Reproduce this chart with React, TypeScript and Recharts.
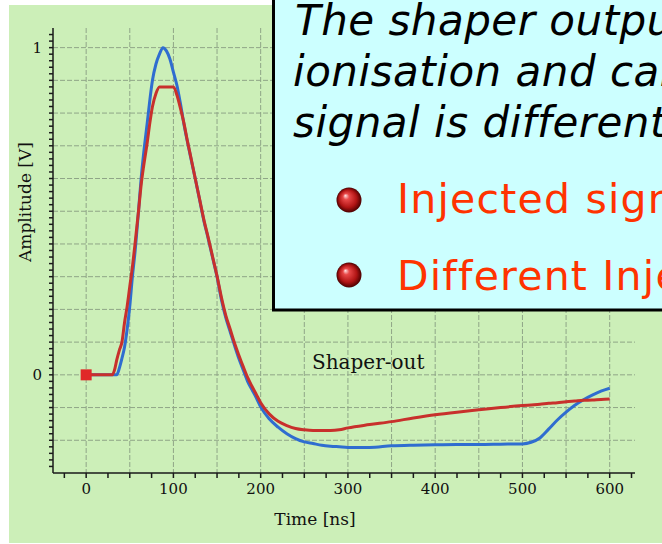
import React from 'react';
import { LineChart, Line, XAxis, YAxis, CartesianGrid, ReferenceDot } from 'recharts';

// time axis in ns, shared by both traces
const timeNs = [
  0, 10, 20, 30, 33, 35, 38, 41, 44, 47, 50, 53, 56, 60, 63, 66, 70, 73, 76, 80, 84, 88,
  92, 96, 100, 104, 108, 112, 116, 120, 125, 130, 135, 140, 145, 150, 155, 160, 165, 170,
  175, 180, 185, 190, 195, 200, 210, 220, 230, 240, 250, 260, 270, 280, 290, 300, 325, 350,
  375, 400, 425, 450, 475, 500, 510, 520, 530, 540, 550, 560, 570, 580, 590, 600,
];

// ionisation signal (blue)
const ionisationV = [
  0, 0, 0, 0, 0, 0, 0.02, 0.05, 0.085, 0.14, 0.21, 0.3, 0.375, 0.5, 0.6, 0.68, 0.77, 0.84,
  0.9, 0.95, 0.98, 1.0, 0.99, 0.965, 0.925, 0.885, 0.83, 0.767, 0.713, 0.662, 0.6, 0.535,
  0.47, 0.415, 0.357, 0.3, 0.23, 0.175, 0.132, 0.09, 0.05, 0.015, -0.02, -0.045, -0.07,
  -0.098, -0.135, -0.16, -0.18, -0.195, -0.205, -0.21, -0.215, -0.218, -0.22, -0.222,
  -0.222, -0.217, -0.215, -0.214, -0.213, -0.213, -0.212, -0.211, -0.206, -0.193, -0.166,
  -0.138, -0.114, -0.093, -0.076, -0.062, -0.05, -0.041,
];

// calibration signal (red)
const calibrationV = [
  0, 0, 0, 0, 0.02, 0.045, 0.075, 0.1, 0.16, 0.21, 0.27, 0.33, 0.4, 0.5, 0.58, 0.64, 0.71,
  0.77, 0.82, 0.86, 0.88, 0.88, 0.88, 0.88, 0.88, 0.855, 0.815, 0.77, 0.715, 0.665, 0.6,
  0.537, 0.473, 0.418, 0.36, 0.302, 0.237, 0.182, 0.14, 0.097, 0.06, 0.025, -0.008, -0.035,
  -0.06, -0.085, -0.12, -0.142, -0.155, -0.164, -0.168, -0.17, -0.17, -0.17, -0.168,
  -0.162, -0.152, -0.143, -0.132, -0.122, -0.114, -0.107, -0.1, -0.094, -0.092, -0.09,
  -0.087, -0.085, -0.082, -0.08, -0.078, -0.077, -0.075, -0.074,
];

const xLabelTicks = [0, 100, 200, 300, 400, 500, 600];
const yLabelTicks = [0, 1];
const xGrid = [0, 50, 100, 150, 200, 250, 300, 350, 400, 450, 500, 550, 600];
const yGrid = [-0.2, -0.1, 0, 0.1, 0.2, 0.3, 0.4, 0.5, 0.6, 0.7, 0.8, 0.9, 1.0];

// small tick marks every 25 ns and every 0.02 V
const xTicks = Array.from({ length: 27 }, (_, i) => -25 + i * 25);
const yTicks = Array.from({ length: 67 }, (_, i) => Math.round(-28 + i * 2) / 100);

const ionisationData = timeNs.map((t, i) => ({ t, v: ionisationV[i] }));
const calibrationData = timeNs.map((t, i) => ({ t, v: calibrationV[i] }));

const serif = 'DejaVu Serif';
const sans = 'DejaVu Sans';

const StartMarker = (props: any) => (
  <rect x={props.cx - 5.5} y={props.cy - 5.5} width={11} height={11} fill="#e02828" />
);

const App: React.FC = () => {
  return (
    <div style={{ position: 'absolute', left: 0, top: 0, width: 662, height: 544, overflow: 'hidden', background: '#fff' }}>
      <div style={{ position: 'absolute', left: 9, top: 5, width: 653, height: 538, background: '#ccefb8' }} />

      <div style={{ position: 'absolute', left: 0, top: 0 }}>
        <LineChart width={662} height={544} margin={{ top: 28, right: 27, bottom: 0, left: 0 }}>
          <CartesianGrid
            stroke="#8fa587"
            strokeDasharray="5 2"
            horizontalValues={yGrid}
            verticalValues={xGrid}
          />
          <XAxis
            type="number"
            dataKey="t"
            domain={[-38, 629]}
            ticks={xTicks}
            interval={0}
            height={71}
            tickSize={5}
            tickMargin={5}
            stroke="#1a1a1a"
            strokeWidth={1.5}
            tick={{ fill: '#111', fontSize: 15, fontFamily: serif }}
            tickFormatter={(v: number) => (xLabelTicks.includes(v) ? String(v) : '')}
          />
          <YAxis
            type="number"
            dataKey="v"
            domain={[-0.3, 1.06]}
            ticks={yTicks}
            interval={0}
            width={53}
            tickSize={4}
            tickMargin={7}
            stroke="#1a1a1a"
            strokeWidth={1.5}
            tick={{ fill: '#111', fontSize: 15, fontFamily: serif }}
            tickFormatter={(v: number) => (yLabelTicks.includes(v) ? String(v) : '')}
          />
          <Line
            data={ionisationData}
            dataKey="v"
            type="monotone"
            stroke="#2f6dd0"
            strokeWidth={3}
            dot={false}
            isAnimationActive={false}
          />
          <Line
            data={calibrationData}
            dataKey="v"
            type="monotone"
            stroke="#c8302c"
            strokeWidth={3}
            dot={false}
            isAnimationActive={false}
          />
          <ReferenceDot x={0} y={0} shape={StartMarker} />
        </LineChart>
      </div>

      <svg width={662} height={544} style={{ position: 'absolute', left: 0, top: 0 }}>
        <defs>
          <radialGradient id="ball" cx="50%" cy="50%" r="50%" fx="35%" fy="32%">
            <stop offset="0%" stopColor="#ffe6e6" />
            <stop offset="25%" stopColor="#e84848" />
            <stop offset="70%" stopColor="#b01414" />
            <stop offset="100%" stopColor="#4a0000" />
          </radialGradient>
        </defs>

        <text x={31} y={202} transform="rotate(-90 31 202)" textAnchor="middle" fontFamily={serif} fontSize={17} fill="#111">
          Amplitude [V]
        </text>
        <text x={315} y={525} textAnchor="middle" fontFamily={serif} fontSize={17} fill="#111">
          Time [ns]
        </text>
        <text x={312} y={369} fontFamily={serif} fontSize={20} fill="#111">
          Shaper-out
        </text>

        {/* text box overlapping the plot, running off the slide edge */}
        <rect x={273.5} y={-10} width={500} height={320} fill="#ccffff" stroke="#000" strokeWidth={3} />
        <g fontFamily={sans} fontStyle="italic" fontSize={42} letterSpacing={0.5} fill="#000">
          <text x={295} y={35}>The shaper output of</text>
          <text x={293} y={86}>ionisation and calibration</text>
          <text x={293} y={137}>signal is different</text>
        </g>
        <circle cx={349} cy={200} r={12.5} fill="url(#ball)" />
        <circle cx={349} cy={275} r={12.5} fill="url(#ball)" />
        <g fontFamily={sans} fontSize={41} letterSpacing={1.2} fill="#ff3300">
          <text x={397} y={213}>Injected signal</text>
          <text x={397} y={290}>Different Injection</text>
        </g>
      </svg>
    </div>
  );
};

export default App;
